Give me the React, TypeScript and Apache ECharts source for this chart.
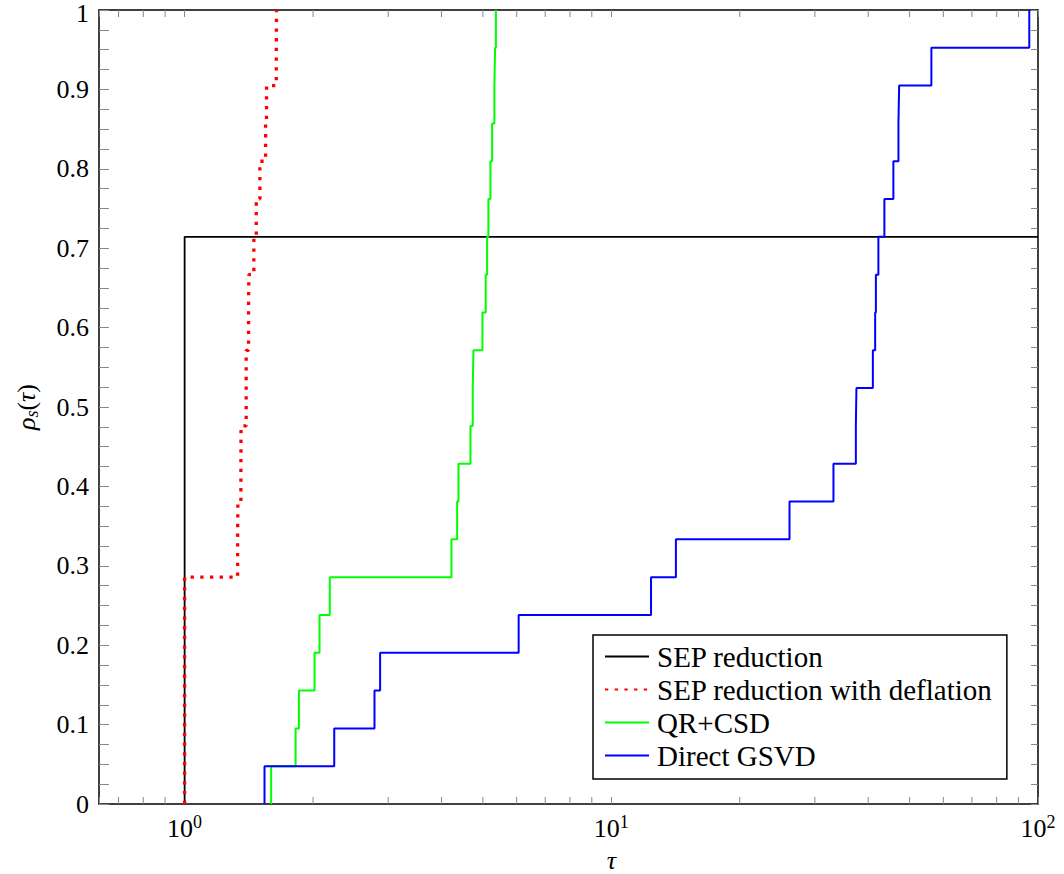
import React, { useEffect, useRef } from "react";
import * as echarts from "echarts";

// ---- data ----
const TOTAL_PROBLEMS = 21;
const SERIES_NAMES = ["SEP reduction", "SEP reduction with deflation", "QR+CSD", "Direct GSVD"];
const SERIES_COLORS = ["#000000", "#ff0000", "#00ff00", "#0000ff"];
// performance ratios (sorted) of the solved problems for each solver
const SEP_REDUCTION = [1, 1, 1, 1, 1, 1, 1, 1, 1, 1, 1, 1, 1, 1, 1];
const SEP_DEFLATION = [
  1, 1, 1, 1, 1, 1, 1.331, 1.333, 1.355, 1.356, 1.394, 1.394, 1.412, 1.414, 1.453, 1.472, 1.501, 1.548, 1.556,
  1.64, 1.642,
];
const QR_CSD = [
  1.595, 1.82, 1.853, 2.016, 2.071, 2.189, 4.221, 4.352, 4.383, 4.676, 4.734, 4.752, 4.988, 5.078, 5.116, 5.152,
  5.208, 5.256, 5.321, 5.341, 5.365,
];
const DIRECT_GSVD = [
  1.539, 2.242, 2.786, 2.872, 6.065, 12.39, 14.17, 26.16, 33.16, 37.42, 37.54, 41.02, 41.53, 41.69, 42.26, 43.65,
  45.82, 47.09, 47.27, 56.25, 95.4,
];
const X_MIN = 0.63;
const X_MAX = 100;
const MINOR_X_TICKS = [0.7, 0.8, 0.9, 2, 3, 4, 5, 6, 7, 8, 9, 20, 30, 40, 50, 60, 70, 80, 90];
const Y_TICK_STEP = 0.025;

const FONT = "Liberation Serif";

function profile(ratios: number[]): number[][] {
  const pts: number[][] = [[ratios[0], 0]];
  ratios.forEach((r, i) => pts.push([r, (i + 1) / TOTAL_PROBLEMS]));
  if (ratios.length < TOTAL_PROBLEMS) pts.push([X_MAX, ratios.length / TOTAL_PROBLEMS]);
  return pts;
}

const isPow10 = (v: number) => Math.abs(Math.log10(v) - Math.round(Math.log10(v))) < 1e-6;
const isTenth = (v: number) => Math.abs(v * 10 - Math.round(v * 10)) < 1e-6;

export default function App() {
  const ref = useRef<HTMLDivElement>(null);
  useEffect(() => {
    document.body.style.margin = "0";
    const chart = echarts.init(ref.current!, undefined, { renderer: "svg" });
    const tickStyle = { color: "#888888", width: 1 };
    const axisLineStyle = { color: "#000000", width: 1.5 };
    const xLabel = {
      fontFamily: FONT,
      color: "#000",
      margin: 9,
      formatter: (v: number) => (isPow10(v) ? `{b|10}{s|${Math.round(Math.log10(v))}}` : ""),
      rich: {
        b: { fontFamily: FONT, fontSize: 26, lineHeight: 30, color: "#000" },
        s: { fontFamily: FONT, fontSize: 18, lineHeight: 18, verticalAlign: "top", color: "#000" },
      },
    };
    const allData = [SEP_REDUCTION, SEP_DEFLATION, QR_CSD, DIRECT_GSVD];
    const lineSeries = allData.map((d, i) => ({
      type: "line",
      name: SERIES_NAMES[i],
      data: profile(d),
      step: "end",
      symbol: "none",
      showSymbol: false,
      color: SERIES_COLORS[i],
      lineStyle:
        i === 1
          ? { color: SERIES_COLORS[i], width: 3.3, type: [3.3, 6.4], cap: "butt" }
          : { color: SERIES_COLORS[i], width: i === 0 ? 1.8 : 2 },
      z: 3 + i,
    }));
    chart.setOption({
      animation: false,
      backgroundColor: "#ffffff",
      textStyle: { fontFamily: FONT },
      grid: { left: 99, right: 26, top: 10, bottom: 70, containLabel: false, outerBoundsMode: "none" },
      xAxis: [
        {
          type: "log",
          logBase: 10,
          min: X_MIN,
          max: X_MAX,
          position: "bottom",
          axisLine: { show: true, onZero: false, lineStyle: axisLineStyle },
          axisTick: { show: true, inside: true, length: 7, lineStyle: tickStyle },
          axisLabel: xLabel,
          splitLine: { show: false },
          minorTick: { show: false },
          name: "τ",
          nameLocation: "middle",
          nameGap: 43,
          nameTextStyle: {
            fontFamily: FONT,
            fontStyle: "italic",
            fontSize: 26,
            color: "#000",
            padding: [0, 0, 0, 86],
          },
        },
        {
          type: "log",
          logBase: 10,
          min: X_MIN,
          max: X_MAX,
          position: "top",
          axisLine: { show: true, onZero: false, lineStyle: axisLineStyle },
          axisTick: { show: true, inside: true, length: 7, lineStyle: tickStyle },
          axisLabel: { show: false },
          splitLine: { show: false },
        },
      ],
      yAxis: [
        {
          type: "value",
          min: 0,
          max: 1,
          interval: Y_TICK_STEP,
          position: "left",
          axisLine: { show: true, onZero: false, lineStyle: axisLineStyle },
          axisTick: { show: true, inside: true, length: 10, interval: 0, lineStyle: tickStyle },
          axisLabel: {
            interval: 0,
            margin: 10,
            fontFamily: FONT,
            fontSize: 26,
            color: "#000",
            formatter: (v: number) =>
              isTenth(v) ? (v >= 1 - 1e-9 ? `{top|${Number(v.toFixed(1))}}` : String(Number(v.toFixed(1)))) : "",
            rich: {
              top: { fontFamily: FONT, fontSize: 26, color: "#000", padding: [7, 0, 0, 0] },
            },
          },
          splitLine: { show: false },
          name: "{i|ρ}{sub|s}{n|(}{i|τ}{n|)}",
          nameLocation: "middle",
          nameGap: 58,
          nameRotate: 90,
          nameTextStyle: {
            fontFamily: FONT,
            rich: {
              i: { fontFamily: FONT, fontStyle: "italic", fontSize: 26, color: "#000", lineHeight: 30 },
              n: { fontFamily: FONT, fontSize: 26, color: "#000", lineHeight: 30 },
              sub: { fontFamily: FONT, fontStyle: "italic", fontSize: 18, color: "#000", lineHeight: 18, verticalAlign: "bottom" },
            },
          },
        },
        {
          type: "value",
          min: 0,
          max: 1,
          interval: Y_TICK_STEP,
          position: "right",
          axisLine: { show: true, onZero: false, lineStyle: axisLineStyle },
          axisTick: { show: true, inside: true, length: 7, interval: 0, lineStyle: tickStyle },
          axisLabel: { show: false },
          splitLine: { show: false },
        },
      ],
      legend: {
        data: SERIES_NAMES,
        orient: "vertical",
        left: 593,
        top: 635,
        itemWidth: 44,
        itemHeight: 14,
        itemGap: 0,
        padding: [5, 14, 7, 11],
        backgroundColor: "#ffffff",
        borderColor: "#000000",
        borderWidth: 1.5,
        borderRadius: 0,
        itemStyle: { color: "rgba(0,0,0,0)", borderWidth: 0, opacity: 0 },
        textStyle: { fontFamily: FONT, fontSize: 29, lineHeight: 33, color: "#000", padding: [0, 0, 0, 3] },
        z: 10,
      },
      series: [
        ...lineSeries,
        {
          type: "custom",
          name: "minor ticks",
          silent: true,
          clip: false,
          z: 1,
          xAxisIndex: 0,
          yAxisIndex: 0,
          data: MINOR_X_TICKS.map((v) => [v, 0]),
          encode: { x: 0, y: 1 },
          renderItem: (params: any, api: any) => {
            const v = api.value(0);
            const b = api.coord([v, 0]);
            const t = api.coord([v, 1]);
            const style = { stroke: "#888888", lineWidth: 1 };
            return {
              type: "group",
              children: [
                { type: "line", shape: { x1: b[0], y1: b[1], x2: b[0], y2: b[1] - 7 }, style },
                { type: "line", shape: { x1: t[0], y1: t[1], x2: t[0], y2: t[1] + 7 }, style },
              ],
            };
          },
        },
      ],
    });
    return () => chart.dispose();
  }, []);
  return <div ref={ref} style={{ width: 1064, height: 874 }} />;
}
